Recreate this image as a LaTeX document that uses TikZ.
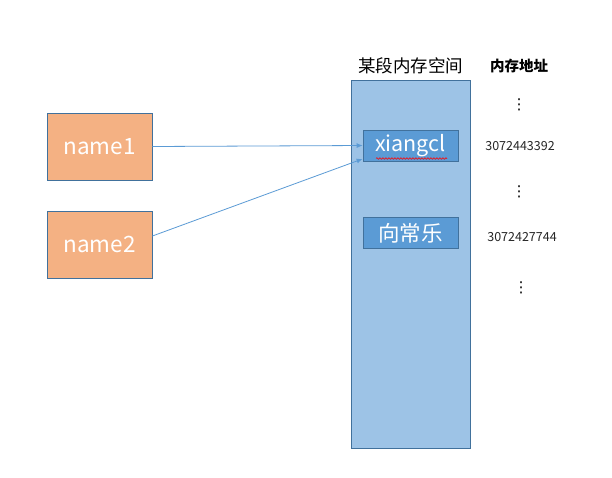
\documentclass[tikz,border=0pt]{standalone}
\usepackage{fontspec}
\setmainfont{Noto Sans CJK SC}
\newfontfamily\dejavu{DejaVu Sans}
\usetikzlibrary{decorations.pathmorphing,arrows.meta}
\definecolor{orangefill}{HTML}{F4B183}
\definecolor{edgeblue}{HTML}{41719C}
\definecolor{lightblue}{HTML}{9DC3E6}
\definecolor{midblue}{HTML}{5B9BD5}
\begin{document}
\begin{tikzpicture}[x=1pt,y=-1pt,
  namebox/.style={draw=edgeblue,fill=orangefill,line width=0.8pt,minimum width=105pt,minimum height=67pt,inner sep=0pt,text=white,font=\fontsize{22.5}{24}\selectfont},
  cellbox/.style={draw=edgeblue,fill=midblue,line width=0.8pt,minimum width=95pt,minimum height=31pt,inner sep=0pt,text=white,font=\fontsize{21.5}{24}\selectfont},
  arr/.style={draw=midblue,line width=0.8pt,-{Latex[length=6pt,width=5pt]}},
  addr/.style={font=\fontsize{12.5}{14}\selectfont,text=black!85},
  vdots/.style={font=\dejavu\fontsize{15}{16}\selectfont}]
\useasboundingbox[fill=white] (0,0) rectangle (612,477);
\node[draw=edgeblue,fill=lightblue,line width=0.8pt,minimum width=119pt,minimum height=368pt,inner sep=0pt] (mem) at (410.5,264) {};
\node[namebox] (n1) at (99.5,146.5) {name1};
\node[namebox] (n2) at (99.5,244.5) {name2};
\node[cellbox] (c1) at (410.5,145.5) {xiangcl};
\node[cellbox] (c2) at (410.5,233) {向常乐};
\node[font=\fontsize{17.5}{20}\selectfont] (title) at (410.5,66) {某段内存空间};
\node[font=\fontsize{14.5}{16}\selectfont\bfseries] (addrtitle) at (519,66) {内存地址};
\node[vdots] (d1) at (519,105) {⋮};
\node[vdots] (d2) at (519,192) {⋮};
\node[vdots] (d3) at (521,288) {⋮};
\node[addr] (a1) at (520,146) {3072443392};
\node[addr] (a2) at (522,237) {3072427744};
\coordinate (t1) at (c1.west);
\coordinate (t2) at ([yshift=2.5pt]c1.south west);
\coordinate (s2) at ([yshift=8.5pt]n2.east);
\draw[arr] (n1.east) -- (t1);
\draw[arr] (s2) -- (t2);
\coordinate (sq1) at (376,158.5);
\coordinate (sq2) at (447,158.5);
\draw[red,line width=0.6pt,decorate,decoration={snake,amplitude=0.8pt,segment length=3pt}] (sq1) -- (sq2);
\end{tikzpicture}
\end{document}
